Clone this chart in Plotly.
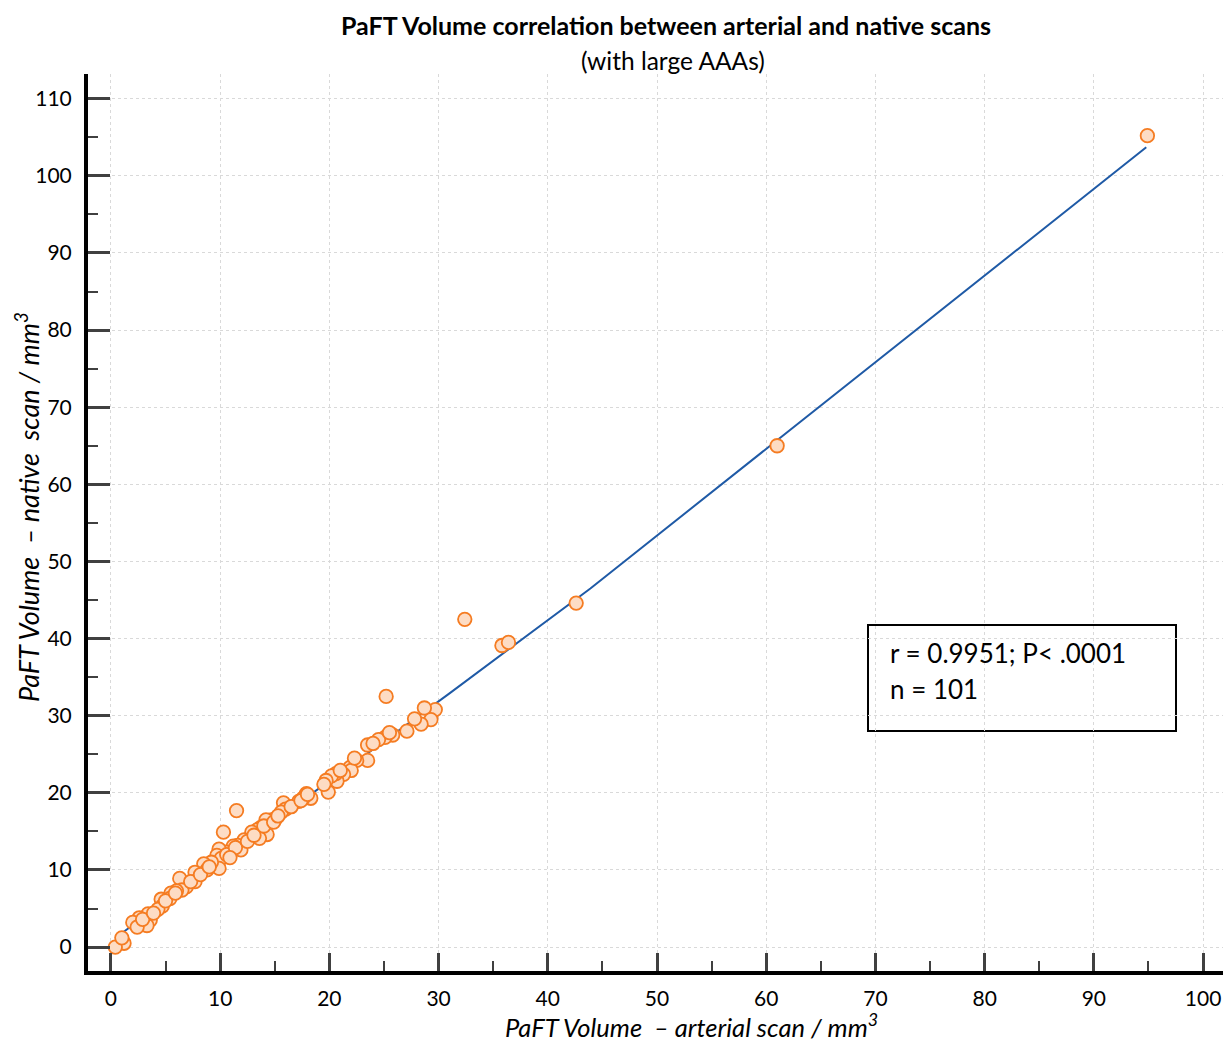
import plotly.graph_objects as go

# Data points (arterial scan volume, native scan volume), mm^3
arterial = [
    94.9, 61.0, 42.6, 32.4, 35.8, 36.4, 25.2, 29.7, 28.7, 29.3,
    28.4, 27.1, 25.8, 25.1, 24.5, 23.5, 23.5, 22.5, 21.9, 22.0,
    21.3, 20.7, 20.6, 20.2, 19.7, 19.9, 18.3, 17.9, 17.6, 17.2,
    15.8, 16.0, 15.6, 15.1, 14.7, 14.2, 13.7, 14.3, 13.4, 12.9,
    13.6, 11.5, 10.3, 12.2, 11.6, 11.2, 11.9, 10.5, 9.9, 9.7,
    10.1, 9.9, 9.2, 8.7, 8.5, 8.8, 7.7, 7.7, 7.1, 6.9,
    6.3, 6.5, 6.0, 5.5, 5.4, 4.6, 4.7, 4.3, 3.4, 3.6,
    3.3, 2.6, 2.0, 2.4, 1.2, 0.4,
    1.0, 2.9, 3.9, 5.0, 5.9, 7.3, 8.2, 9.0, 10.6, 11.4,
    12.5, 13.1, 14.0, 14.9, 15.3, 16.5, 17.4, 18.0, 19.5, 21.0,
    22.3, 24.0, 25.5, 27.8, 10.9,
]
native = [
    105.2, 65.0, 44.6, 42.5, 39.1, 39.5, 32.5, 30.8, 31.0, 29.5,
    28.9, 28.0, 27.5, 27.2, 26.9, 26.2, 24.2, 24.2, 23.3, 22.9,
    22.4, 21.5, 22.5, 22.2, 21.6, 20.1, 19.3, 19.9, 19.3, 18.9,
    18.7, 17.9, 17.5, 16.7, 16.5, 16.5, 15.5, 14.6, 15.2, 14.9,
    14.1, 17.7, 14.9, 13.9, 13.2, 13.1, 12.6, 12.3, 12.7, 11.9,
    11.5, 10.2, 11.0, 10.5, 10.8, 10.0, 9.7, 8.5, 8.3, 7.8,
    8.9, 7.4, 7.3, 7.0, 6.3, 6.2, 5.3, 4.9, 4.3, 3.5,
    2.8, 3.8, 3.2, 2.6, 0.5, 0.0,
    1.2, 3.6, 4.4, 6.0, 7.0, 8.5, 9.4, 10.4, 12.0, 12.9,
    13.7, 14.5, 15.7, 16.2, 17.0, 18.2, 19.0, 19.8, 21.1, 22.9,
    24.5, 26.4, 27.8, 29.6, 11.6,
]

# Regression line
fit_x = [0.4, 13.8, 22.6, 31.0, 43.9, 94.8]
fit_y = [1.17, 15.2, 24.2, 32.9, 46.5, 103.7]

tick_vals = [0, 10, 20, 30, 40, 50, 60, 70, 80, 90, 100, 110]

FONT = "Lato"

# plot area in page pixels (page body has an 8px margin)
PL, PR, PT, PB = 88, 1226, 74, 971
PW, PH = PR - PL, PB - PT


def px(xp):
    return (xp - PL) / PW


def py(yp):
    return (PB - yp) / PH


fig = go.Figure()
fig.add_trace(go.Scatter(
    x=fit_x, y=fit_y, mode="lines",
    line=dict(color="#1f5aa6", width=2),
    showlegend=False, hoverinfo="skip",
))
fig.add_trace(go.Scatter(
    x=arterial, y=native, mode="markers",
    marker=dict(size=13.5, color="#fddcc4", line=dict(color="#f57c22", width=1.8)),
    showlegend=False,
))

axis_common = dict(
    showline=True, linecolor="black", linewidth=4, mirror=False,
    ticks="inside", tickcolor="#404040", tickwidth=3,
    showgrid=True, gridcolor="#d9d9d9", griddash="dot", gridwidth=1,
    zeroline=False,
    tickfont=dict(family=FONT, size=21, color="black"),
    minor=dict(ticks="inside", tickcolor="#404040", tickwidth=2, ticklen=10,
               dtick=5, showgrid=False),
    tickmode="array",
)

W, H = 1223, 1033
fig.update_layout(
    width=W, height=H,
    margin=dict(l=PL - 8, r=8 + W - PR, t=PT - 8, b=8 + H - PB),
    plot_bgcolor="white", paper_bgcolor="white",
    xaxis=dict(range=[-2.1, 102.1], tickvals=tick_vals[:-1], ticklen=18,
               ticklabelstandoff=6, **axis_common),
    yaxis=dict(range=[-3.1, 113.2], tickvals=tick_vals, ticklen=22,
               ticklabelstandoff=8, **axis_common),
    font=dict(family=FONT, color="black"),
)

annotations = [
    dict(text="<b>PaFT Volume correlation between arterial and native scans</b>",
         x=px(666), y=py(25), font=dict(size=25)),
    dict(text="(with large AAAs)",
         x=px(673), y=py(60), font=dict(size=24.5)),
    dict(text="<i>PaFT Volume  – arterial scan / mm<sup>3</sup></i>",
         x=px(692), y=py(1025), font=dict(size=25.5)),
    dict(text="<i>PaFT Volume  – native  scan / mm<sup>3</sup></i>",
         x=px(27), y=py(507), textangle=-90, font=dict(size=27)),
    dict(text="r = 0.9951; P< .0001", x=px(888), y=py(653),
         xanchor="left", font=dict(size=26)),
    dict(text="n = 101", x=px(888), y=py(689),
         xanchor="left", font=dict(size=26)),
]
for a in annotations:
    a.setdefault("xanchor", "center")
    fig.add_annotation(xref="paper", yref="paper", showarrow=False,
                       yanchor="middle", **a)

fig.add_shape(type="rect", xref="paper", yref="paper",
              x0=px(868), x1=px(1176), y0=py(731), y1=py(625),
              line=dict(color="black", width=2), fillcolor="white", layer="below")

fig.write_html("out.html")
